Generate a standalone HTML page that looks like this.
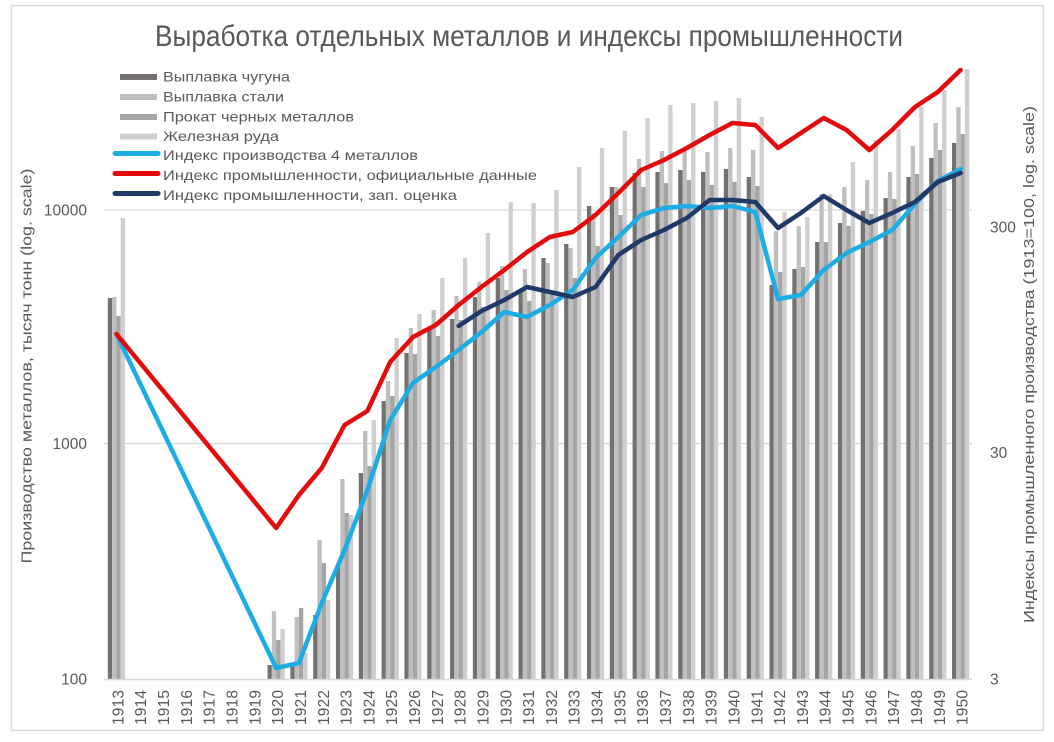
<!DOCTYPE html>
<html><head><meta charset="utf-8">
<style>
html,body{margin:0;padding:0;background:#fff;}
svg{display:block;}
text{font-family:"Liberation Sans","Noto Sans CJK SC",sans-serif;fill:#595959;}
.d{fill:#767171}.s{fill:#bfbfbf}.p{fill:#a5a5a5}.r{fill:#d0cece}
</style></head>
<body>
<svg width="1054" height="742" viewBox="0 0 1054 742" xmlns="http://www.w3.org/2000/svg">
<rect x="0" y="0" width="1054" height="742" fill="#fff"/>
<rect x="11.5" y="5.5" width="1032" height="725" fill="none" stroke="#d9d9d9" stroke-width="1.5"/>

<text x="155" y="46" font-size="30" textLength="748" lengthAdjust="spacingAndGlyphs">Выработка отдельных металлов и индексы промышленности</text>

<!-- gridlines -->
<line x1="104" y1="210" x2="972" y2="210" stroke="#d9d9d9" stroke-width="1.3"/>
<line x1="104" y1="443.5" x2="972" y2="443.5" stroke="#d9d9d9" stroke-width="1.3"/>

<!-- bars -->
<g transform="translate(107.81,0)"><rect class="d" x="0" y="298" width="4.3" height="381"/><rect class="s" x="4.3" y="297" width="4.3" height="382"/><rect class="p" x="8.6" y="316" width="4.3" height="363"/><rect class="r" x="12.9" y="218" width="4.3" height="461"/></g>
<g transform="translate(267.52,0)"><rect class="d" x="0" y="665" width="4.3" height="14"/><rect class="s" x="4.3" y="611" width="4.3" height="68"/><rect class="p" x="8.6" y="640" width="4.3" height="39"/><rect class="r" x="12.9" y="629" width="4.3" height="50"/></g>
<g transform="translate(290.34,0)"><rect class="d" x="0" y="665" width="4.3" height="14"/><rect class="s" x="4.3" y="617" width="4.3" height="62"/><rect class="p" x="8.6" y="608" width="4.3" height="71"/><rect class="r" x="12.9" y="653" width="4.3" height="26"/></g>
<g transform="translate(313.15,0)"><rect class="d" x="0" y="615" width="4.3" height="64"/><rect class="s" x="4.3" y="540" width="4.3" height="139"/><rect class="p" x="8.6" y="563" width="4.3" height="116"/><rect class="r" x="12.9" y="600" width="4.3" height="79"/></g>
<g transform="translate(335.97,0)"><rect class="d" x="0" y="564" width="4.3" height="115"/><rect class="s" x="4.3" y="479" width="4.3" height="200"/><rect class="p" x="8.6" y="513" width="4.3" height="166"/><rect class="r" x="12.9" y="515" width="4.3" height="164"/></g>
<g transform="translate(358.78,0)"><rect class="d" x="0" y="473" width="4.3" height="206"/><rect class="s" x="4.3" y="431" width="4.3" height="248"/><rect class="p" x="8.6" y="466" width="4.3" height="213"/><rect class="r" x="12.9" y="420" width="4.3" height="259"/></g>
<g transform="translate(381.60,0)"><rect class="d" x="0" y="401" width="4.3" height="278"/><rect class="s" x="4.3" y="381" width="4.3" height="298"/><rect class="p" x="8.6" y="396" width="4.3" height="283"/><rect class="r" x="12.9" y="338" width="4.3" height="341"/></g>
<g transform="translate(404.42,0)"><rect class="d" x="0" y="353" width="4.3" height="326"/><rect class="s" x="4.3" y="328" width="4.3" height="351"/><rect class="p" x="8.6" y="354" width="4.3" height="325"/><rect class="r" x="12.9" y="314" width="4.3" height="365"/></g>
<g transform="translate(427.23,0)"><rect class="d" x="0" y="330" width="4.3" height="349"/><rect class="s" x="4.3" y="310" width="4.3" height="369"/><rect class="p" x="8.6" y="336" width="4.3" height="343"/><rect class="r" x="12.9" y="278" width="4.3" height="401"/></g>
<g transform="translate(450.05,0)"><rect class="d" x="0" y="319" width="4.3" height="360"/><rect class="s" x="4.3" y="296" width="4.3" height="383"/><rect class="p" x="8.6" y="320" width="4.3" height="359"/><rect class="r" x="12.9" y="258" width="4.3" height="421"/></g>
<g transform="translate(472.86,0)"><rect class="d" x="0" y="297" width="4.3" height="382"/><rect class="s" x="4.3" y="282" width="4.3" height="397"/><rect class="p" x="8.6" y="307" width="4.3" height="372"/><rect class="r" x="12.9" y="233" width="4.3" height="446"/></g>
<g transform="translate(495.68,0)"><rect class="d" x="0" y="278" width="4.3" height="401"/><rect class="s" x="4.3" y="266" width="4.3" height="413"/><rect class="p" x="8.6" y="290" width="4.3" height="389"/><rect class="r" x="12.9" y="202" width="4.3" height="477"/></g>
<g transform="translate(518.50,0)"><rect class="d" x="0" y="292" width="4.3" height="387"/><rect class="s" x="4.3" y="269" width="4.3" height="410"/><rect class="p" x="8.6" y="301" width="4.3" height="378"/><rect class="r" x="12.9" y="203" width="4.3" height="476"/></g>
<g transform="translate(541.31,0)"><rect class="d" x="0" y="258" width="4.3" height="421"/><rect class="s" x="4.3" y="263" width="4.3" height="416"/><rect class="p" x="8.6" y="294" width="4.3" height="385"/><rect class="r" x="12.9" y="190" width="4.3" height="489"/></g>
<g transform="translate(564.13,0)"><rect class="d" x="0" y="244" width="4.3" height="435"/><rect class="s" x="4.3" y="248" width="4.3" height="431"/><rect class="p" x="8.6" y="278" width="4.3" height="401"/><rect class="r" x="12.9" y="167" width="4.3" height="512"/></g>
<g transform="translate(586.94,0)"><rect class="d" x="0" y="206" width="4.3" height="473"/><rect class="s" x="4.3" y="213" width="4.3" height="466"/><rect class="p" x="8.6" y="246" width="4.3" height="433"/><rect class="r" x="12.9" y="148" width="4.3" height="531"/></g>
<g transform="translate(609.76,0)"><rect class="d" x="0" y="187" width="4.3" height="492"/><rect class="s" x="4.3" y="187" width="4.3" height="492"/><rect class="p" x="8.6" y="215" width="4.3" height="464"/><rect class="r" x="12.9" y="131" width="4.3" height="548"/></g>
<g transform="translate(632.58,0)"><rect class="d" x="0" y="173" width="4.3" height="506"/><rect class="s" x="4.3" y="159" width="4.3" height="520"/><rect class="p" x="8.6" y="187" width="4.3" height="492"/><rect class="r" x="12.9" y="118" width="4.3" height="561"/></g>
<g transform="translate(655.39,0)"><rect class="d" x="0" y="172" width="4.3" height="507"/><rect class="s" x="4.3" y="151" width="4.3" height="528"/><rect class="p" x="8.6" y="183" width="4.3" height="496"/><rect class="r" x="12.9" y="105" width="4.3" height="574"/></g>
<g transform="translate(678.21,0)"><rect class="d" x="0" y="170" width="4.3" height="509"/><rect class="s" x="4.3" y="148" width="4.3" height="531"/><rect class="p" x="8.6" y="180" width="4.3" height="499"/><rect class="r" x="12.9" y="103" width="4.3" height="576"/></g>
<g transform="translate(701.02,0)"><rect class="d" x="0" y="172" width="4.3" height="507"/><rect class="s" x="4.3" y="152" width="4.3" height="527"/><rect class="p" x="8.6" y="185" width="4.3" height="494"/><rect class="r" x="12.9" y="101" width="4.3" height="578"/></g>
<g transform="translate(723.84,0)"><rect class="d" x="0" y="169" width="4.3" height="510"/><rect class="s" x="4.3" y="148" width="4.3" height="531"/><rect class="p" x="8.6" y="182" width="4.3" height="497"/><rect class="r" x="12.9" y="98" width="4.3" height="581"/></g>
<g transform="translate(746.66,0)"><rect class="d" x="0" y="177" width="4.3" height="502"/><rect class="s" x="4.3" y="150" width="4.3" height="529"/><rect class="p" x="8.6" y="186" width="4.3" height="493"/><rect class="r" x="12.9" y="117" width="4.3" height="562"/></g>
<g transform="translate(769.47,0)"><rect class="d" x="0" y="285" width="4.3" height="394"/><rect class="s" x="4.3" y="231" width="4.3" height="448"/><rect class="p" x="8.6" y="272" width="4.3" height="407"/><rect class="r" x="12.9" y="212" width="4.3" height="467"/></g>
<g transform="translate(792.29,0)"><rect class="d" x="0" y="269" width="4.3" height="410"/><rect class="s" x="4.3" y="226" width="4.3" height="453"/><rect class="p" x="8.6" y="267" width="4.3" height="412"/><rect class="r" x="12.9" y="217" width="4.3" height="462"/></g>
<g transform="translate(815.10,0)"><rect class="d" x="0" y="242" width="4.3" height="437"/><rect class="s" x="4.3" y="194" width="4.3" height="485"/><rect class="p" x="8.6" y="242" width="4.3" height="437"/><rect class="r" x="12.9" y="194" width="4.3" height="485"/></g>
<g transform="translate(837.92,0)"><rect class="d" x="0" y="223" width="4.3" height="456"/><rect class="s" x="4.3" y="187" width="4.3" height="492"/><rect class="p" x="8.6" y="226" width="4.3" height="453"/><rect class="r" x="12.9" y="162" width="4.3" height="517"/></g>
<g transform="translate(860.74,0)"><rect class="d" x="0" y="211" width="4.3" height="468"/><rect class="s" x="4.3" y="180" width="4.3" height="499"/><rect class="p" x="8.6" y="214" width="4.3" height="465"/><rect class="r" x="12.9" y="140" width="4.3" height="539"/></g>
<g transform="translate(883.55,0)"><rect class="d" x="0" y="198" width="4.3" height="481"/><rect class="s" x="4.3" y="172" width="4.3" height="507"/><rect class="p" x="8.6" y="199" width="4.3" height="480"/><rect class="r" x="12.9" y="129" width="4.3" height="550"/></g>
<g transform="translate(906.37,0)"><rect class="d" x="0" y="177" width="4.3" height="502"/><rect class="s" x="4.3" y="146" width="4.3" height="533"/><rect class="p" x="8.6" y="174" width="4.3" height="505"/><rect class="r" x="12.9" y="107" width="4.3" height="572"/></g>
<g transform="translate(929.18,0)"><rect class="d" x="0" y="158" width="4.3" height="521"/><rect class="s" x="4.3" y="123" width="4.3" height="556"/><rect class="p" x="8.6" y="150" width="4.3" height="529"/><rect class="r" x="12.9" y="90" width="4.3" height="589"/></g>
<g transform="translate(952.00,0)"><rect class="d" x="0" y="143" width="4.3" height="536"/><rect class="s" x="4.3" y="107" width="4.3" height="572"/><rect class="p" x="8.6" y="134" width="4.3" height="545"/><rect class="r" x="12.9" y="69" width="4.3" height="610"/></g>

<!-- x axis line -->
<line x1="104" y1="679.5" x2="972" y2="679.5" stroke="#d9d9d9" stroke-width="1.5"/>

<!-- lines -->
<polyline fill="none" stroke="#1cade4" stroke-width="4.5" stroke-linejoin="round" stroke-linecap="round" points="116.41,334 276.12,668 298.94,663 321.75,603 344.57,550 367.38,490 390.20,420 413.02,383 435.83,367 458.65,350 481.46,332 504.28,312 527.10,317 549.91,305 572.73,290 595.54,258 618.36,237 641.18,215 663.99,208 686.81,206 709.62,208 732.44,206 755.26,212 778.07,299 800.89,295 823.70,270 846.52,253 869.34,242 892.15,230 914.97,204 937.78,181 960.60,169"/>
<polyline fill="none" stroke="#e30b0b" stroke-width="4.5" stroke-linejoin="round" stroke-linecap="round" points="116.41,334 276.12,528 298.94,495 321.75,468 344.57,425 367.38,411 390.20,362 413.02,337 435.83,325 458.65,305 481.46,287 504.28,270 527.10,252 549.91,237 572.73,232 595.54,215 618.36,193 641.18,170 663.99,160 686.81,148 709.62,135 732.44,123 755.26,125 778.07,148 800.89,133 823.70,118 846.52,130 869.34,150 892.15,130 914.97,107 937.78,92 960.60,70"/>
<polyline fill="none" stroke="#1f3a68" stroke-width="4.5" stroke-linejoin="round" stroke-linecap="round" points="458.65,326 481.46,311 504.28,300 527.10,287 549.91,292 572.73,297 595.54,287 618.36,255 641.18,240 663.99,230 686.81,218 709.62,200 732.44,200 755.26,202 778.07,228 800.89,213 823.70,196 846.52,210 869.34,223 892.15,213 914.97,202 937.78,182 960.60,173"/>

<!-- legend -->
<rect class="d" x="120" y="74" width="37" height="6"/>
<rect class="s" x="120" y="94" width="37" height="6"/>
<rect class="p" x="120" y="114" width="37" height="6"/>
<rect class="r" x="120" y="133.5" width="37" height="6"/>
<line x1="115" y1="153.5" x2="158" y2="153.5" stroke="#1cade4" stroke-width="5" stroke-linecap="round"/>
<line x1="115" y1="173.5" x2="158" y2="173.5" stroke="#e30b0b" stroke-width="5" stroke-linecap="round"/>
<line x1="115" y1="193.5" x2="158" y2="193.5" stroke="#1f3a68" stroke-width="5" stroke-linecap="round"/>
<g font-size="14">
<text x="163" y="81.7" textLength="127" lengthAdjust="spacingAndGlyphs">Выплавка чугуна</text>
<text x="163" y="101.7" textLength="121" lengthAdjust="spacingAndGlyphs">Выплавка стали</text>
<text x="163" y="121.7" textLength="191" lengthAdjust="spacingAndGlyphs">Прокат черных металлов</text>
<text x="163" y="141.2" textLength="116" lengthAdjust="spacingAndGlyphs">Железная руда</text>
<text x="163" y="160" textLength="255" lengthAdjust="spacingAndGlyphs">Индекс производства 4 металлов</text>
<text x="163" y="180" textLength="374" lengthAdjust="spacingAndGlyphs">Индекс промышленности, официальные данные</text>
<text x="163" y="200" textLength="294" lengthAdjust="spacingAndGlyphs">Индекс промышленности, зап. оценка</text>
</g>

<!-- left ticks -->
<g font-size="15.5" text-anchor="end">
<text x="87" y="215.5">10000</text>
<text x="87" y="449">1000</text>
<text x="87" y="684.5">100</text>
</g>
<!-- right ticks -->
<g font-size="15.5">
<text x="990" y="232.5">300</text>
<text x="990" y="458">30</text>
<text x="990" y="684.5">3</text>
</g>

<!-- axis titles -->
<text transform="translate(31.7,366) rotate(-90)" font-size="15" text-anchor="middle" textLength="395" lengthAdjust="spacingAndGlyphs">Производство металлов, тысяч тонн (log. scale)</text>
<text transform="translate(1034,364.5) rotate(-90)" font-size="15" text-anchor="middle" textLength="517" lengthAdjust="spacingAndGlyphs">Индексы промышленного производства (1913=100, log. scale)</text>

<!-- x labels -->
<g font-size="15.5" text-anchor="end">
<text transform="translate(123.4,690) rotate(-90)" textLength="35">1913</text>
<text transform="translate(146.2,690) rotate(-90)" textLength="35">1914</text>
<text transform="translate(169.0,690) rotate(-90)" textLength="35">1915</text>
<text transform="translate(191.9,690) rotate(-90)" textLength="35">1916</text>
<text transform="translate(214.7,690) rotate(-90)" textLength="35">1917</text>
<text transform="translate(237.5,690) rotate(-90)" textLength="35">1918</text>
<text transform="translate(260.3,690) rotate(-90)" textLength="35">1919</text>
<text transform="translate(283.1,690) rotate(-90)" textLength="35">1920</text>
<text transform="translate(305.9,690) rotate(-90)" textLength="35">1921</text>
<text transform="translate(328.8,690) rotate(-90)" textLength="35">1922</text>
<text transform="translate(351.6,690) rotate(-90)" textLength="35">1923</text>
<text transform="translate(374.4,690) rotate(-90)" textLength="35">1924</text>
<text transform="translate(397.2,690) rotate(-90)" textLength="35">1925</text>
<text transform="translate(420.0,690) rotate(-90)" textLength="35">1926</text>
<text transform="translate(442.8,690) rotate(-90)" textLength="35">1927</text>
<text transform="translate(465.7,690) rotate(-90)" textLength="35">1928</text>
<text transform="translate(488.5,690) rotate(-90)" textLength="35">1929</text>
<text transform="translate(511.3,690) rotate(-90)" textLength="35">1930</text>
<text transform="translate(534.1,690) rotate(-90)" textLength="35">1931</text>
<text transform="translate(556.9,690) rotate(-90)" textLength="35">1932</text>
<text transform="translate(579.7,690) rotate(-90)" textLength="35">1933</text>
<text transform="translate(602.5,690) rotate(-90)" textLength="35">1934</text>
<text transform="translate(625.4,690) rotate(-90)" textLength="35">1935</text>
<text transform="translate(648.2,690) rotate(-90)" textLength="35">1936</text>
<text transform="translate(671.0,690) rotate(-90)" textLength="35">1937</text>
<text transform="translate(693.8,690) rotate(-90)" textLength="35">1938</text>
<text transform="translate(716.6,690) rotate(-90)" textLength="35">1939</text>
<text transform="translate(739.4,690) rotate(-90)" textLength="35">1940</text>
<text transform="translate(762.3,690) rotate(-90)" textLength="35">1941</text>
<text transform="translate(785.1,690) rotate(-90)" textLength="35">1942</text>
<text transform="translate(807.9,690) rotate(-90)" textLength="35">1943</text>
<text transform="translate(830.7,690) rotate(-90)" textLength="35">1944</text>
<text transform="translate(853.5,690) rotate(-90)" textLength="35">1945</text>
<text transform="translate(876.3,690) rotate(-90)" textLength="35">1946</text>
<text transform="translate(899.2,690) rotate(-90)" textLength="35">1947</text>
<text transform="translate(922.0,690) rotate(-90)" textLength="35">1948</text>
<text transform="translate(944.8,690) rotate(-90)" textLength="35">1949</text>
<text transform="translate(967.6,690) rotate(-90)" textLength="35">1950</text>
</g>
</svg>
</body></html>
